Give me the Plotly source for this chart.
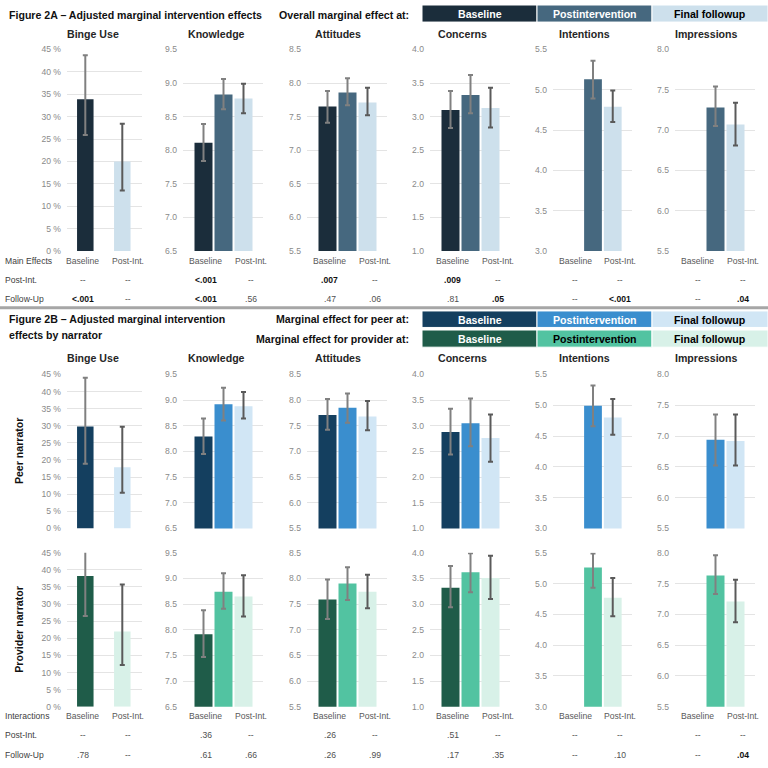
import plotly.graph_objects as go

# ---------------- data ----------------
measures = ["Binge Use", "Knowledge", "Attitudes", "Concerns", "Intentions", "Impressions"]
timepoints = ["Baseline", "Postintervention", "Final followup"]
x_labels = ["Baseline", "Post-Int."]

y_min = [0, 6.5, 5.5, 1.0, 3.0, 5.5]
y_max = [45, 9.5, 8.5, 4.0, 5.5, 8.0]
y_step = [5, 0.5, 0.5, 0.5, 0.5, 0.5]

# Figure 2A - overall marginal effects (Baseline, Postintervention, Final followup)
overall_mean = [[33.9, None, 20.0], [8.11, 8.83, 8.77], [7.65, 7.86, 7.71],
                [3.10, 3.32, 3.13], [None, 5.13, 4.79], [None, 7.28, 7.07]]
overall_lo = [[25.9, None, 13.5], [7.84, 8.61, 8.55], [7.41, 7.67, 7.52],
              [2.83, 3.05, 2.84], [None, 4.89, 4.60], [None, 7.05, 6.81]]
overall_hi = [[43.7, None, 28.4], [8.39, 9.06, 8.99], [7.88, 8.07, 7.93],
              [3.38, 3.62, 3.43], [None, 5.36, 4.99], [None, 7.54, 7.34]]

# Figure 2B - peer narrator
peer_mean = [[29.8, None, 17.9], [8.29, 8.92, 8.88], [7.71, 7.85, 7.68],
             [2.88, 3.05, 2.76], [None, 4.99, 4.80], [None, 6.94, 6.92]]
peer_lo = [[18.9, None, 10.4], [7.95, 8.60, 8.64], [7.42, 7.56, 7.41],
           [2.44, 2.60, 2.30], [None, 4.66, 4.52], [None, 6.52, 6.52]]
peer_hi = [[44.0, None, 29.7], [8.64, 9.24, 9.16], [8.02, 8.13, 7.98],
           [3.33, 3.53, 3.22], [None, 5.32, 5.10], [None, 7.35, 7.35]]

# Figure 2B - provider narrator
provider_mean = [[38.2, None, 22.0], [7.91, 8.74, 8.65], [7.59, 7.90, 7.74],
                 [3.32, 3.62, 3.51], [None, 5.26, 4.77], [None, 7.63, 7.21]]
provider_lo = [[26.5, None, 12.2], [7.47, 8.41, 8.26], [7.21, 7.58, 7.42],
               [2.94, 3.23, 3.10], [None, 4.93, 4.47], [None, 7.33, 6.87]]
provider_hi = [[45.5, None, 35.7], [8.38, 9.10, 9.06], [7.98, 8.22, 8.07],
               [3.74, 3.99, 3.94], [None, 5.49, 5.09], [None, 7.96, 7.56]]

# p-value tables (Baseline column, Post-Int. column)
main_postint = [["--", "--"], ["<.001", "--"], [".007", "--"], [".009", "--"], ["--", "--"], ["--", "--"]]
main_followup = [["<.001", "--"], ["<.001", ".56"], [".47", ".06"], [".81", ".05"], ["--", "<.001"], ["--", ".04"]]
inter_postint = [["--", "--"], [".36", "--"], [".26", "--"], [".51", "--"], ["--", "--"], ["--", "--"]]
inter_followup = [[".78", "--"], [".61", ".66"], [".26", ".99"], [".17", ".35"], ["--", ".10"], ["--", ".04"]]

# ---------------- styles / layout constants ----------------
W = H = 768
FONT = "Arial, Liberation Sans, sans-serif"
overall_colors = ["#1b2d3b", "#46687f", "#cde0ec"]
peer_colors = ["#143f5f", "#3a8ece", "#d1e6f5"]
provider_colors = ["#1f5c49", "#52c3a1", "#d8f1e8"]
overall_txt = ["white", "white", "black"]
peer_txt = ["white", "white", "black"]
provider_txt = ["white", "black", "black"]
err_colors = ["#808080", "#808080", "#5a5a5a"]

col_px = [(67, 142), (183, 263), (307, 387), (430, 510), (553, 632), (675, 755)]
row_px = [(45, 249.3), (374.3, 530.3), (555, 711)]
title_cx = [93, 216.7, 338, 462, 584.7, 706]
bar_pos3, bar_w3, lab_pos3 = [20.5, 40.5, 60.5], 18, [22.5, 67.5]
bar_pos2, bar_w2, lab_pos2 = [18.3, None, 55.3], 16.5, [15.5, 60.5]


def px_x(p):
    return p / W


def px_y(p):
    return 1 - p / H


fig = go.Figure()
layout = dict(width=W, height=H, margin=dict(l=0, r=0, t=0, b=0),
              paper_bgcolor="white", plot_bgcolor="white",
              barmode="overlay", showlegend=False,
              font=dict(family=FONT, size=9, color="#404040"))
annotations = []
shapes = []

rows = [(overall_mean, overall_lo, overall_hi, overall_colors),
        (peer_mean, peer_lo, peer_hi, peer_colors),
        (provider_mean, provider_lo, provider_hi, provider_colors)]

for r, (means, los, his, colors) in enumerate(rows):
    for c in range(6):
        n = r * 6 + c + 1
        xa = "x" if n == 1 else f"x{n}"
        ya = "y" if n == 1 else f"y{n}"
        xr = 75 if c == 0 else 80
        pos = bar_pos2 if c == 0 else bar_pos3
        bw = bar_w2 if c == 0 else bar_w3
        for k in range(3):
            v = means[c][k]
            if v is None or pos[k] is None:
                continue
            fig.add_trace(go.Bar(
                x=[pos[k]], y=[v], width=[bw], xaxis=xa, yaxis=ya,
                marker=dict(color=colors[k], line=dict(width=0)),
                error_y=dict(type="data", symmetric=False,
                             array=[his[c][k] - v], arrayminus=[v - los[c][k]],
                             color=err_colors[k], thickness=2, width=2.5),
                hoverinfo="skip", name=timepoints[k]))
        xkey = "xaxis" if n == 1 else f"xaxis{n}"
        ykey = "yaxis" if n == 1 else f"yaxis{n}"
        l, rr = col_px[c]
        t, b = row_px[r]
        layout[xkey] = dict(domain=[px_x(l), px_x(rr)], range=[0, xr], anchor=ya,
                            showgrid=False, zeroline=False, showline=False,
                            showticklabels=False, fixedrange=True)
        yax = dict(domain=[px_y(b), px_y(t)], range=[y_min[c], y_max[c]], anchor=xa,
                   tick0=y_min[c], dtick=y_step[c], showgrid=True,
                   gridcolor="#e4e4e4", gridwidth=1, zeroline=False, showline=False,
                   ticks="", tickfont=dict(size=8.6, color="#8a8a8a", family=FONT),
                   ticklabelstandoff=5, fixedrange=True)
        if c == 0:
            yax["ticksuffix"] = " %"
            yax["tickformat"] = "d"
        else:
            yax["tickformat"] = ".1f"
        layout[ykey] = yax

        # panel titles
        if r < 2:
            annotations.append(dict(text=f"<b>{measures[c]}</b>", x=px_x(title_cx[c]),
                                    y=px_y(29.3 if r == 0 else 357.3), xref="paper", yref="paper",
                                    showarrow=False, xanchor="center", yanchor="middle",
                                    font=dict(size=10.6, color="#262626", family=FONT)))


def add_text(text, x, y, size=8.6, color="#404040", bold=False, xanchor="center", angle=0):
    annotations.append(dict(text=f"<b>{text}</b>" if bold else text, x=px_x(x), y=px_y(y),
                            xref="paper", yref="paper", showarrow=False, xanchor=xanchor,
                            yanchor="middle", textangle=angle,
                            font=dict(size=size, color=color, family=FONT)))


def is_sig(s):
    if s.startswith("<"):
        return True
    try:
        return float(s) <= 0.05
    except ValueError:
        return False


# x labels and tables
for (lab_y, pi_y, fu_y, head, pi_tab, fu_tab) in [
        (259.3, 278.3, 298.3, "Main Effects", main_postint, main_followup),
        (720.5, 740, 759.5, "Interactions", inter_postint, inter_followup)]:
    add_text(head, 3, lab_y, xanchor="left")
    add_text("Post-Int.", 3, pi_y, xanchor="left")
    add_text("Follow-Up", 3, fu_y, xanchor="left")
    for c in range(6):
        l, rr = col_px[c]
        xr = 75 if c == 0 else 80
        lp = lab_pos2 if c == 0 else lab_pos3
        for j in range(2):
            xp = l + lp[j] * (rr - l) / xr
            add_text(x_labels[j], xp, lab_y, color="#595959")
            for tab, yy in [(pi_tab, pi_y), (fu_tab, fu_y)]:
                s = tab[c][j]
                sig = is_sig(s)
                add_text(s, xp, yy, color="#111111" if sig else "#505050", bold=sig)

# headings
add_text("Figure 2A – Adjusted marginal intervention effects", 7, 10, size=10.6,
         color="#111111", bold=True, xanchor="left")
add_text("Overall marginal effect at:", 411, 10, size=10.6, color="#111111", bold=True, xanchor="right")
add_text("Figure 2B – Adjusted marginal intervention", 7, 318.3, size=10.6,
         color="#111111", bold=True, xanchor="left")
add_text("effects by narrator", 7, 334.3, size=10.6, color="#111111", bold=True, xanchor="left")
add_text("Marginal effect for peer at:", 411, 318.3, size=10.6, color="#111111", bold=True, xanchor="right")
add_text("Marginal effect for provider at:", 411, 338, size=10.6, color="#111111", bold=True, xanchor="right")
add_text("Peer narrator", 19, 452, size=10.6, color="#111111", bold=True, angle=-90)
add_text("Provider narrator", 19, 633, size=10.6, color="#111111", bold=True, angle=-90)

# legend boxes
box_x = [(422, 537), (537, 652), (652, 768)]
for (y0, y1, cols, tcols) in [(0, 17.3, overall_colors, overall_txt),
                              (310, 326.7, peer_colors, peer_txt),
                              (329.3, 346.7, provider_colors, provider_txt)]:
    for k in range(3):
        x0, x1 = box_x[k]
        shapes.append(dict(type="rect", xref="paper", yref="paper",
                           x0=px_x(x0), x1=px_x(x1), y0=px_y(y1), y1=px_y(y0),
                           fillcolor=cols[k], line=dict(color="white", width=1), layer="above"))
        add_text(timepoints[k], (x0 + x1) / 2, (y0 + y1) / 2 + 0.5, size=10.6,
                 color=tcols[k], bold=True)

# separator line between 2A and 2B
shapes.append(dict(type="line", xref="paper", yref="paper", x0=0, x1=1,
                   y0=px_y(306.7), y1=px_y(306.7), line=dict(color="#a6a6a6", width=3)))

layout["annotations"] = annotations
layout["shapes"] = shapes
fig.update_layout(**layout)
fig.write_html("out.html", config={"displayModeBar": False},
               post_script="document.body.style.margin='0';document.body.style.overflow='hidden';")
